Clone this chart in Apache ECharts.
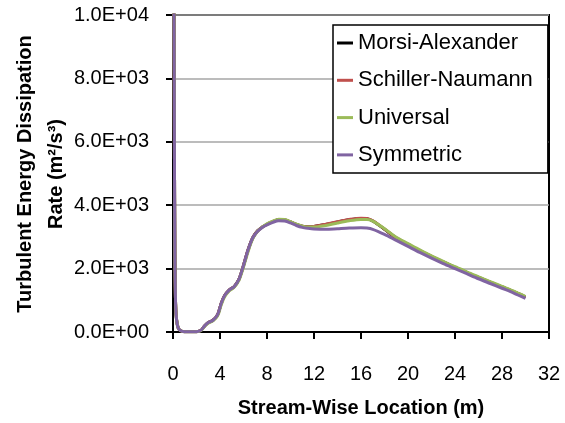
<!DOCTYPE html>
<html>
<head>
<meta charset="utf-8">
<script src="https://cdn.jsdelivr.net/npm/echarts@6/dist/echarts.min.js"></script>
<style>
html,body{margin:0;padding:0;background:#fff;}
#chart{width:565px;height:423px;}
</style>
</head>
<body>
<div id="chart"></div>
<script>
// Stream-wise location (m)
var xs = [0, 0.08, 0.12, 0.16, 0.22, 0.3, 0.45, 0.7, 1.0, 1.5, 2.0, 2.4, 2.7, 3.0, 3.4, 3.8, 4.1, 4.4, 4.8, 5.2, 5.6, 6.0, 6.4, 6.8, 7.2, 7.6, 8.0, 8.5, 9.0, 9.5, 10.0, 10.5, 11.0, 11.5, 12, 13, 14, 15, 16, 16.5, 17, 18, 19, 20, 21, 22, 23, 24, 25, 26, 27, 28, 29, 30];

// Turbulent energy dissipation rate (m2/s3)
var morsiAlexander = [14000, 10500, 6000, 2500, 900, 400, 120, 30, 10, 5, 10, 60, 200, 300, 370, 550, 900, 1150, 1330, 1430, 1650, 2100, 2600, 2980, 3190, 3310, 3400, 3480, 3540, 3530, 3470, 3390, 3340, 3320, 3330, 3390, 3470, 3540, 3580, 3570, 3500, 3240, 2960, 2760, 2560, 2380, 2210, 2040, 1880, 1720, 1570, 1420, 1270, 1100];
var schillerNaumann = [14000, 10500, 6000, 2500, 900, 400, 120, 30, 10, 5, 10, 60, 200, 300, 370, 550, 900, 1150, 1330, 1430, 1650, 2100, 2600, 2980, 3190, 3310, 3400, 3480, 3540, 3530, 3470, 3390, 3340, 3320, 3330, 3400, 3480, 3550, 3590, 3580, 3510, 3250, 2970, 2770, 2570, 2390, 2210, 2040, 1880, 1720, 1570, 1420, 1270, 1100];
var universal = [14000, 10500, 6000, 2500, 900, 400, 120, 30, 10, 5, 10, 50, 180, 280, 350, 510, 850, 1110, 1300, 1410, 1620, 2050, 2550, 2950, 3180, 3310, 3410, 3500, 3560, 3550, 3480, 3400, 3340, 3310, 3310, 3360, 3440, 3510, 3550, 3550, 3500, 3260, 2990, 2790, 2590, 2400, 2230, 2060, 1900, 1740, 1590, 1440, 1290, 1120];
var symmetric = [14000, 10500, 6000, 2500, 900, 400, 120, 30, 10, 5, 10, 60, 200, 300, 370, 550, 900, 1150, 1330, 1430, 1650, 2100, 2600, 2980, 3180, 3300, 3380, 3460, 3510, 3500, 3440, 3360, 3300, 3270, 3250, 3240, 3260, 3280, 3290, 3280, 3240, 3080, 2890, 2700, 2510, 2330, 2160, 2000, 1840, 1680, 1530, 1380, 1230, 1060];

var seriesNames = ['Morsi-Alexander', 'Schiller-Naumann', 'Universal', 'Symmetric'];
var seriesColors = ['#000000', '#C0504D', '#9BBB59', '#8064A2'];
var seriesValues = [morsiAlexander, schillerNaumann, universal, symmetric];

var yTickLabels = ['0.0E+00', '2.0E+03', '4.0E+03', '6.0E+03', '8.0E+03', '1.0E+04'];
var xTickLabels = ['0', '4', '8', '12', '16', '20', '24', '28', '32'];

var FONT = '"Liberation Sans", Arial, sans-serif';

function zip(vals) {
  return xs.map(function (x, i) { return [x, vals[i]]; });
}

var chart = echarts.init(document.getElementById('chart'), null, {renderer: 'canvas'});
chart.setOption({
  animation: false,
  backgroundColor: '#ffffff',
  grid: {left: 173, right: 16, top: 15, bottom: 89, show: true, borderColor: '#000', borderWidth: 2, backgroundColor: 'transparent'},
  xAxis: {
    type: 'value', min: 0, max: 32, interval: 4,
    name: 'Stream-Wise Location (m)', nameLocation: 'middle', nameGap: 66,
    nameTextStyle: {fontFamily: FONT, fontSize: 20, fontWeight: 'bold', color: '#000'},
    axisLine: {show: true, onZero: false, lineStyle: {color: '#000', width: 2}},
    axisTick: {show: true, inside: false, length: 7, lineStyle: {color: '#000', width: 2}},
    axisLabel: {margin: 32, fontFamily: FONT, fontSize: 20, color: '#000',
      formatter: function (v) { return xTickLabels[Math.round(v / 4)]; }},
    splitLine: {show: false}
  },
  yAxis: {
    type: 'value', min: 0, max: 10000, interval: 2000,
    axisLine: {show: true, lineStyle: {color: '#000', width: 2}},
    axisTick: {show: true, inside: false, length: 7, lineStyle: {color: '#000', width: 2}},
    axisLabel: {margin: 24, fontFamily: FONT, fontSize: 20, color: '#000',
      formatter: function (v) { return yTickLabels[Math.round(v / 2000)]; }},
    splitLine: {show: true, lineStyle: {color: '#A6A6A6', width: 1.5}}
  },
  legend: {
    orient: 'vertical', left: 333, top: 25,
    padding: [6.5, 15, 6.5, 4],
    backgroundColor: '#fff', borderColor: '#000', borderWidth: 1.5,
    icon: 'rect', itemWidth: 16, itemHeight: 3, itemGap: 14.3,
    textStyle: {fontFamily: FONT, fontSize: 22, lineHeight: 23, color: '#000'},
    data: seriesNames
  },
  graphic: [{
    type: 'text', x: 41, y: 174, rotation: Math.PI / 2,
    style: {text: 'Turbulent Energy Dissipation\nRate (m²/s³)', fontFamily: FONT, fontSize: 20, fontWeight: 'bold', lineHeight: 31, fill: '#000', align: 'center', verticalAlign: 'middle'}
  }],
  series: seriesNames.map(function (n, i) {
    return {
      name: n, type: 'line', data: zip(seriesValues[i]), smooth: 0.3,
      showSymbol: false, symbol: 'none', clip: true,
      lineStyle: {color: seriesColors[i], width: 3},
      itemStyle: {color: seriesColors[i]}, z: 2 + i
    };
  })
});
</script>
</body>
</html>
